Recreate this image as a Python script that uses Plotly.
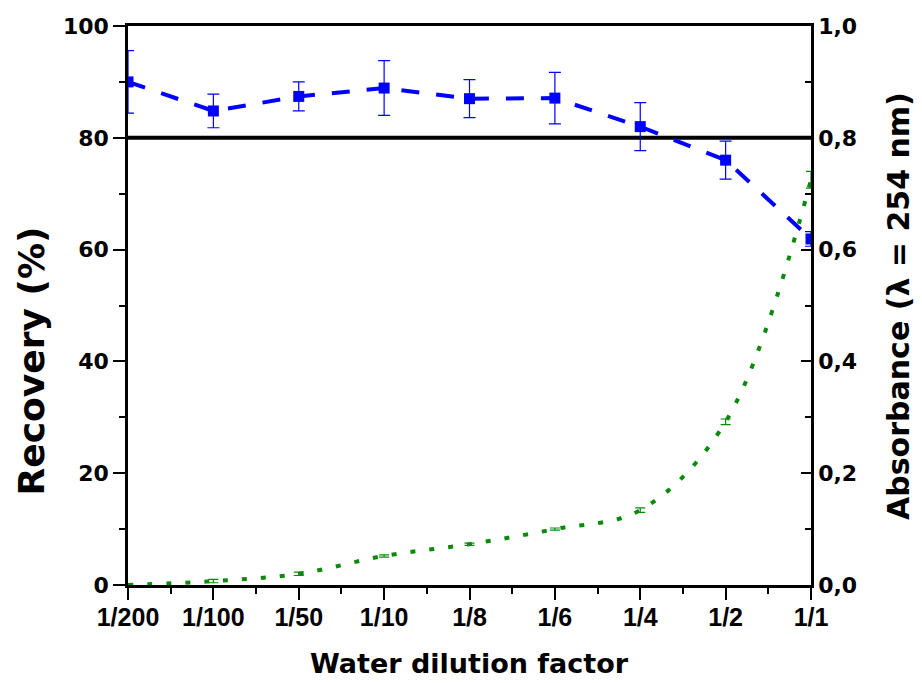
import plotly.graph_objects as go

# ---- data ----
categories = ["1/200", "1/100", "1/50", "1/10", "1/8", "1/6", "1/4", "1/2", "1/1"]
recovery = [90.0, 84.8, 87.4, 88.9, 87.0, 87.1, 82.0, 76.0, 61.9]
recovery_err = [5.6, 3.0, 2.6, 4.9, 3.4, 4.6, 4.3, 3.4, 1.3]
absorbance = [0.0, 0.007, 0.02, 0.052, 0.073, 0.100, 0.134, 0.292, 0.725]
absorbance_err = [0.0, 0.003, 0.003, 0.002, 0.002, 0.002, 0.004, 0.005, 0.015]
threshold = 80
y_ticks = [0, 20, 40, 60, 80, 100]
y2_ticks = [0.0, 0.2, 0.4, 0.6, 0.8, 1.0]
y2_ticktext = ["0,0", "0,2", "0,4", "0,6", "0,8", "1,0"]

xi = list(range(len(categories)))
minor_x = [i + 0.5 for i in xi[:-1]]

BLUE = "#0000ff"
GREEN = "#0a8a0a"
TF = "DejaVu Sans"

fig = go.Figure()

fig.add_trace(go.Scatter(
    x=xi, y=absorbance, yaxis="y2", mode="lines",
    line=dict(color=GREEN, width=4, dash="5px,14px", shape="spline", smoothing=1.0),
    error_y=dict(type="data", array=absorbance_err, color=GREEN, thickness=1.2, width=5),
    showlegend=False,
))

fig.add_trace(go.Scatter(
    x=xi, y=recovery, mode="lines+markers",
    line=dict(color=BLUE, width=4, dash="18px,17px"),
    marker=dict(symbol="square", size=11, color=BLUE),
    error_y=dict(type="data", array=recovery_err, color=BLUE, thickness=1.2, width=6),
    showlegend=False,
))

fig.add_shape(type="line", xref="x domain", x0=0, x1=1, yref="y", y0=threshold, y1=threshold,
              line=dict(color="black", width=4), layer="below")

fig.update_layout(
    width=922, height=683,
    margin=dict(l=128, r=111, t=26, b=98),
    paper_bgcolor="white", plot_bgcolor="white",
    xaxis=dict(
        range=[0, len(categories) - 1], tickmode="array", tickvals=xi, ticktext=categories,
        showline=True, linecolor="black", linewidth=2.5, mirror=True,
        ticks="outside", ticklen=12, tickwidth=2, tickcolor="black",
        minor=dict(tickmode="array", tickvals=minor_x, ticks="outside", ticklen=6, tickwidth=2, tickcolor="black"),
        showgrid=False, zeroline=False, ticklabelstandoff=-4,
        tickfont=dict(family="Liberation Sans", size=25, color="black", weight="bold"),
    ),
    yaxis=dict(
        range=[0, 100], tickmode="array", tickvals=y_ticks,
        showline=True, linecolor="black", linewidth=2.5,
        ticks="outside", ticklen=12, tickwidth=2, tickcolor="black",
        minor=dict(dtick=10, ticks="outside", ticklen=6, tickwidth=2, tickcolor="black"),
        showgrid=False, zeroline=False,
        tickfont=dict(family=TF, size=22, color="black", weight="bold"),
    ),
    yaxis2=dict(
        range=[0, 1], overlaying="y", side="right", tickmode="array",
        tickvals=y2_ticks, ticktext=y2_ticktext,
        showline=True, linecolor="black", linewidth=2.5,
        ticks="inside", ticklen=10, tickwidth=2, tickcolor="black",
        minor=dict(dtick=0.1, ticks="inside", ticklen=6, tickwidth=2, tickcolor="black"),
        showgrid=False, zeroline=False,
        tickfont=dict(family=TF, size=22, color="black", weight="bold"),
    ),
    annotations=[
        dict(text="Recovery (%)", xref="paper", yref="paper", x=-0.142, y=0.40,
             xanchor="center", yanchor="middle", textangle=-90, showarrow=False,
             font=dict(family=TF, size=36, color="black", weight="bold")),
        dict(text="Absorbance (λ = 254 nm)", xref="paper", yref="paper", x=1.128, y=0.50,
             xanchor="center", yanchor="middle", textangle=-90, showarrow=False,
             font=dict(family=TF, size=30, color="black", weight="bold")),
        dict(text="Water dilution factor", xref="paper", yref="paper", x=0.5, y=-0.14,
             xanchor="center", yanchor="middle", showarrow=False,
             font=dict(family=TF, size=27, color="black", weight="bold")),
    ],
)

fig.write_html("out.html")
